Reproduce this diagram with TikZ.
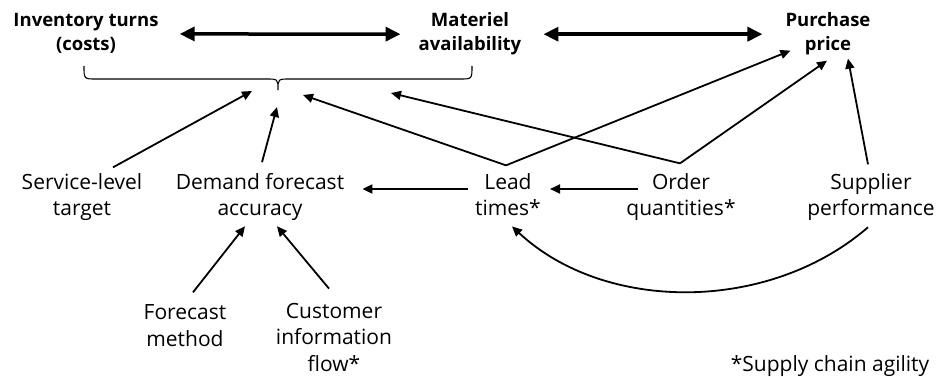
\documentclass[tikz,border=0pt]{standalone}
\usepackage{fontspec}
\setmainfont{Open Sans}
\usetikzlibrary{arrows.meta,calc}
\begin{document}
\begin{tikzpicture}[x=1pt,y=-1pt,
  lbl/.style={font=\fontsize{21}{26.5}\selectfont, align=center, inner sep=0pt, anchor=base},
  toplbl/.style={font=\fontsize{18.5}{24}\selectfont\bfseries, align=center, inner sep=0pt, anchor=base},
  arr/.style={line width=1.8pt, -{Triangle[length=10pt,width=9pt]}},
  big/.style={line width=3.5pt, {Triangle[length=15pt,width=14pt]}-{Triangle[length=15pt,width=14pt]}},
  bracestyle/.style={line width=1.1pt}
  ]
\useasboundingbox (0,0) rectangle (938,377);
% top row (base = last line)
\node[toplbl] (inv) at (86,51) {Inventory turns\\(costs)};
\node[toplbl] (mat) at (470,51) {Materiel\\availability};
\node[toplbl] (pur) at (828,51) {Purchase\\price};
% middle row
\node[lbl] (svc) at (82,216) {Service-level\\target};
\node[lbl] (dem) at (260,216) {Demand forecast\\accuracy};
\node[lbl] (lead) at (508,216) {Lead\\times*};
\node[lbl] (ord) at (681,216) {Order\\quantities*};
\node[lbl] (sup) at (871,216) {Supplier\\performance};
% bottom row
\node[lbl] (fm) at (185,346) {Forecast\\method};
\node[lbl] (cif) at (334,371) {Customer\\information\\flow*};
\node[lbl] (note) at (830,371) {*Supply chain agility};
% brace
\coordinate (tip) at (278,90);
\draw[bracestyle] (84,66) .. controls (84,79) .. (96,79) -- (266,79)
  .. controls (278,79) .. (tip) .. controls (278,79) .. (290,79) -- (460,79)
  .. controls (472,79) .. (472,66);
% double arrows
\draw[big, shorten <=21pt, shorten >=18pt] (inv) -- (mat);
\draw[big, shorten <=22pt, shorten >=23pt] (mat) -- (pur);
% arrows to brace
\draw[arr] ($(svc.north)+(31,-6)$) -- ($(tip)+(-26,1)$);
\draw[arr] ($(dem.north)+(2,-11)$) -- ($(tip)+(-1,17)$);
\draw[arr] ($(lead.north)+(-2,-8)$) -- ($(tip)+(25,5)$);
\draw[arr] ($(ord.north)+(-1,-10)$) -- ($(tip)+(113,3)$);
% arrows to purchase price
\draw[arr] ($(lead.north)+(-2,-8)$) -- ($(pur.south west)+(5,-5)$);
\draw[arr] ($(ord.north)+(-1,-10)$) -- ($(pur.south)+(-1,5)$);
\draw[arr] ($(sup.north)+(-3,-9)$) -- ($(pur.south)+(20,3)$);
% horizontal arrows
\draw[arr] ($(lead.base west)+(-7,-27)$) -- ($(dem.base east)+(18,-27)$);
\draw[arr] ($(ord.base west)+(12,-27)$) -- ($(lead.base east)+(9,-27)$);
% to demand forecast accuracy
\draw[arr] ($(fm.north)+(8,-12)$) -- ($(dem.south)+(-15,5)$);
\draw[arr] ($(cif.north)+(-5,-14)$) -- ($(dem.south)+(17,5)$);
% curved arrow
\draw[arr] ($(sup.south)+(-3,6)$) .. controls (769,313) and (605,313) .. ($(lead.south)+(4,10)$);
\end{tikzpicture}
\end{document}
